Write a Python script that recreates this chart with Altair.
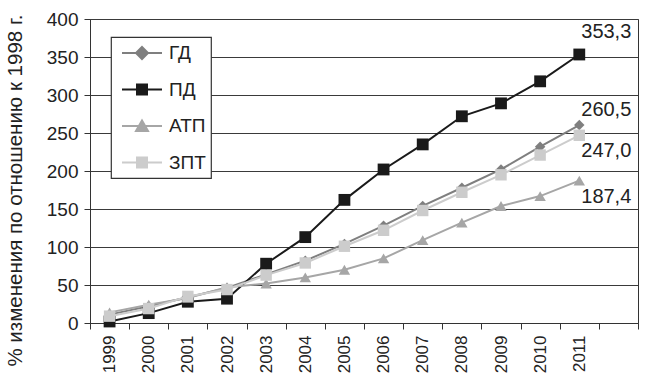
import altair as alt
import pandas as pd

# Years on the category axis (an extra empty slot is kept at the right end)
years = ["1999", "2000", "2001", "2002", "2003", "2004", "2005",
         "2006", "2007", "2008", "2009", "2010", "2011"]
x_domain = years + ["2012"]

# Percent change relative to 1998 for each series
series = ["ГД", "ПД", "АТП", "ЗПТ"]
gd = [11, 22, 34, 46, 64, 82, 104, 128, 154, 178, 202, 232, 260.5]
pd_vals = [2, 13, 28, 32, 78, 113, 162, 202, 235, 272, 289, 318, 353.3]
atp = [14, 24, 33, 47, 52, 60, 70, 85, 109, 132, 154, 167, 187.4]
zpt = [9, 19, 35, 44, 63, 79, 101, 122, 148, 172, 195, 221, 247.0]

values = {"ГД": gd, "ПД": pd_vals, "АТП": atp, "ЗПТ": zpt}

rows = []
for s in series:
    for y, v in zip(years, values[s]):
        rows.append({"year": y, "series": s, "v": v})
df = pd.DataFrame(rows)

# Styling per series
colors = {"ГД": "#7f7f7f", "ПД": "#1a1a1a", "АТП": "#a6a6a6", "ЗПТ": "#cccccc"}
shapes = {"ГД": "diamond", "ПД": "square", "АТП": "triangle-up", "ЗПТ": "square"}
sizes = {"ГД": 110, "ПД": 140, "АТП": 130, "ЗПТ": 130}
label_dy = {"ГД": -15, "ПД": -22, "АТП": 16, "ЗПТ": 16}
legend_paths = {
    "ГД": "M-2,0H2M0,-0.6L0.6,0L0,0.6L-0.6,0Z",
    "ПД": "M-2,0H2M-0.5,-0.5H0.5V0.5H-0.5Z",
    "АТП": "M-2,0H2M0,-0.55L0.6,0.5H-0.6Z",
    "ЗПТ": "M-2,0H2M-0.5,-0.5H0.5V0.5H-0.5Z",
}

FONT = "Liberation Sans"

x_enc = alt.X(
    "year:O",
    scale=alt.Scale(type="band", domain=x_domain, paddingInner=0, paddingOuter=0),
    axis=alt.Axis(
        title=None, tickBand="extent", labelAngle=-90, labelAlign="right",
        labelBaseline="middle", labelFontSize=17, labelPadding=6,
        labelExpr="datum.value == '2012' ? '' : datum.label",
        tickSize=6, tickColor="#333", domainColor="#333", labelColor="#222",
        labelFont=FONT, grid=False,
    ),
)
y_enc = alt.Y(
    "v:Q",
    scale=alt.Scale(domain=[0, 400], nice=False),
    axis=alt.Axis(
        title="% изменения по отношению к 1998 г.", values=list(range(0, 401, 50)),
        titleFontSize=20.5, titleFont=FONT, titleFontWeight="normal", titleColor="#222",
        titleX=-75, titleY=171, titleAngle=-90, titleAlign="center",
        titleBaseline="middle",
        labelFontSize=19, labelFont=FONT, labelColor="#222", labelPadding=6,
        tickSize=6, tickColor="#333", domainColor="#333",
        grid=True, gridColor="#3a3a3a", gridWidth=1,
    ),
)

base = alt.Chart(df)
layers = []
for s in series:
    sub = base.transform_filter(alt.datum.series == s)
    layers.append(
        sub.mark_line(color=colors[s], strokeWidth=2).encode(x=x_enc, y=y_enc)
    )
    layers.append(
        sub.mark_point(filled=True, opacity=1, color=colors[s], shape=shapes[s],
                       size=sizes[s]).encode(x=x_enc, y=y_enc)
    )

for s in series:
    layers.append(
        base.transform_filter((alt.datum.series == s) & (alt.datum.year == "2011"))
        .transform_calculate(lbl="replace(format(datum.v, '.1f'), '.', ',')")
        .mark_text(font=FONT, fontSize=20, color="#222", align="center",
                   baseline="middle", dx=27, dy=label_dy[s])
        .encode(x=x_enc, y=y_enc, text="lbl:N")
    )

# Legend: line-with-marker symbols, no marks of its own
legend_kw = dict(title=None, labelExpr="datum.label + '    '")
legend_layer = (
    base.transform_filter("datum.v < -9999")
    .mark_point(filled=True, opacity=1)
    .encode(
        x=x_enc, y=y_enc,
        color=alt.Color("series:N", scale=alt.Scale(domain=series, range=[colors[s] for s in series]),
                        legend=alt.Legend(**legend_kw)),
        stroke=alt.Stroke("series:N", scale=alt.Scale(domain=series, range=[colors[s] for s in series]),
                          legend=alt.Legend(**legend_kw)),
        shape=alt.Shape("series:N", scale=alt.Scale(domain=series, range=[legend_paths[s] for s in series]),
                        legend=alt.Legend(**legend_kw)),
    )
)
layers.append(legend_layer)

chart = (
    alt.layer(*layers)
    .properties(width=548, height=304,
                autosize=alt.AutoSizeParams(type="none"),
                padding={"left": 90, "top": 19, "right": 12, "bottom": 59})
    .configure_view(stroke="#333", strokeWidth=1)
    .configure_legend(
        orient="none", legendX=21, legendY=18,
        fillColor="white", strokeColor="#333", strokeWidth=1.2, padding=5,
        symbolSize=400, symbolStrokeWidth=2, symbolOffset=15, labelOffset=16,
        rowPadding=15.5, labelFontSize=19, labelFont=FONT, labelColor="#222",
        symbolOpacity=1,
    )
)

chart.save("out.html", embed_options={"renderer": "svg", "actions": False})
